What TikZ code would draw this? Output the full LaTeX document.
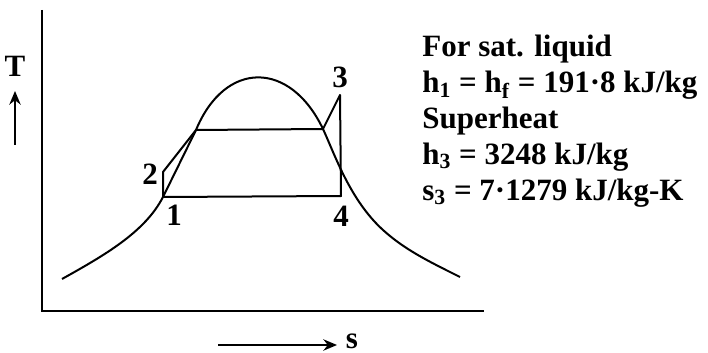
\documentclass[tikz,border=0pt]{standalone}
\usepackage{fontspec}
\setmainfont{Liberation Serif}
\usetikzlibrary{positioning, arrows.meta}
\begin{document}
\begin{tikzpicture}[
    x=0.5pt, y=-0.5pt,
    curve/.style={line width=1pt, line join=round},
    axis/.style={line width=1.2pt},
    lbl/.style={font=\fontsize{15.5}{17.8}\bfseries\selectfont, inner sep=0pt},
    data/.style={font=\fontsize{15.5}{17.9}\bfseries\selectfont, inner sep=0pt, align=left},
    arr/.style={-{Stealth[length=2.4mm, width=2mm]}, line width=0.9pt}
  ]
    \useasboundingbox (0,0) rectangle (708,353);
    % axes
    \coordinate (ytop) at (42,10);
    \coordinate (o) at (42,311);
    \coordinate (xend) at (484,311);
    \draw[axis] (ytop) -- (o) -- (xend);
    \node[lbl] (tlab) at (15,66) {T};
    \coordinate (tlo) at (15,145);
    \coordinate (thi) at (15,91);
    \draw[arr] (tlo) -- (thi);
    \node[lbl] (slab) at (352,341) {s};
    \coordinate (sst) at (218,345);
    \coordinate (send) at (337,345);
    \draw[arr] (sst) -- (send);
    % cycle points
    \coordinate (p1) at (163,197);
    \coordinate (p2) at (163,172);
    \coordinate (pa) at (196,130);
    \coordinate (pb) at (323,129);
    \coordinate (p3) at (340,95);
    \coordinate (p4) at (341,196);
    % saturation dome
    \draw[curve] (62,279) .. controls (105,255) and (145,232) .. (p1) -- (pa)
      .. controls (225,60) and (290,60) .. (pb)
      .. controls (335,155) and (350,200) .. (383,230)
      .. controls (405,250) and (430,262) .. (460,277);
    % cycle
    \draw[curve] (p1) -- (p2) -- (pa) -- (pb) -- (p3) -- (p4) -- cycle;
    \node[lbl] (n1) at (174,215) {1};
    \node[lbl] (n2) at (150,174) {2};
    \node[lbl] (n3) at (340,77) {3};
    \node[lbl] (n4) at (341,216) {4};
    % data
    \node[data, anchor=north west] (info) at (422,35) {For sat. liquid\\
      h\textsubscript{1} = h\textsubscript{f} = 191·8 kJ/kg\\
      Superheat\\
      h\textsubscript{3} = 3248 kJ/kg\\
      s\textsubscript{3} = 7·1279 kJ/kg-K};
  \end{tikzpicture}
\end{document}
